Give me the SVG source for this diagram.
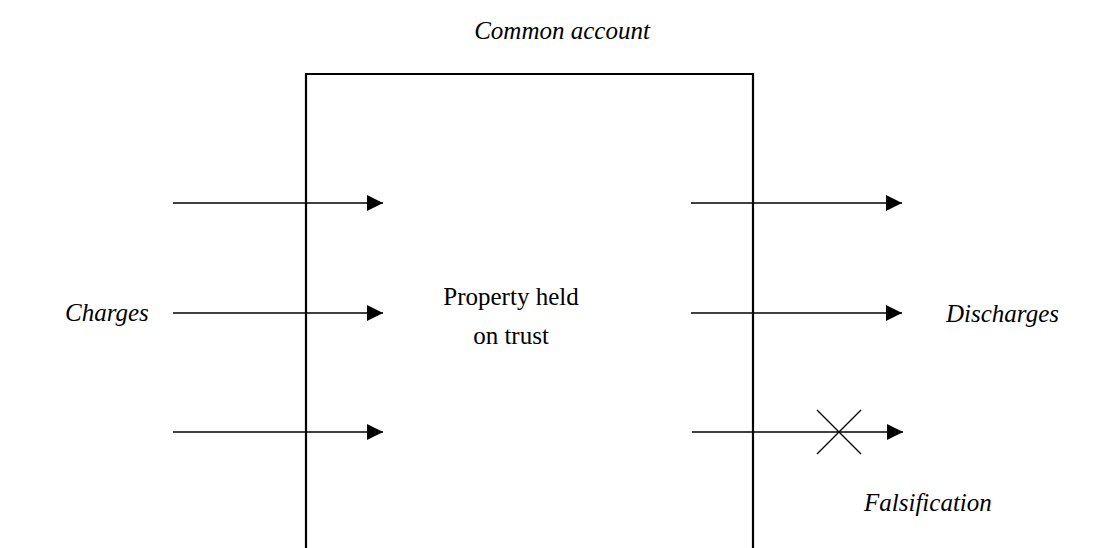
<svg xmlns="http://www.w3.org/2000/svg" width="1103" height="548" viewBox="0 0 1103 548">
  <defs>
    <marker id="arrow" viewBox="0 0 16 16" refX="16" refY="8" markerWidth="16" markerHeight="16" markerUnits="userSpaceOnUse" orient="auto">
      <path d="M0,0 L16,8 L0,16 Z" fill="#000"/>
    </marker>
  </defs>
  <style>
    .lbl { font-family: "Liberation Serif", "Times New Roman", serif; font-size: 25px; fill: #000; }
    .it { font-style: italic; }
    .edge { stroke: #000; stroke-width: 1.3; fill: none; marker-end: url(#arrow); }
    .box { stroke: #000; stroke-width: 2.2; fill: none; }
  </style>
  <rect width="1103" height="548" fill="#fff"/>

  <g id="title">
    <text class="lbl it" x="562" y="39" text-anchor="middle">Common account</text>
  </g>

  <g id="account">
    <path class="box" d="M306,548 L306,74 L753,74 L753,548"/>
    <text class="lbl" x="511" y="305" text-anchor="middle">Property held</text>
    <text class="lbl" x="511" y="344" text-anchor="middle">on trust</text>
  </g>

  <g id="charges">
    <text class="lbl it" x="65" y="321">Charges</text>
  </g>

  <g id="discharges">
    <text class="lbl it" x="946" y="322" font-size="29">Discharges</text>
  </g>

  <g id="falsification">
    <text class="lbl it" x="864" y="511" font-size="27">Falsification</text>
  </g>

  <g id="connectors">
    <line class="edge" x1="173" y1="203" x2="383" y2="203"/>
    <line class="edge" x1="173" y1="313" x2="383" y2="313"/>
    <line class="edge" x1="173" y1="432" x2="383" y2="432"/>
    <line class="edge" x1="691" y1="203" x2="902" y2="203"/>
    <line class="edge" x1="691" y1="313" x2="902" y2="313"/>
    <line class="edge" x1="692" y1="432" x2="903" y2="432"/>
    <path d="M817,410 L861,454 M861,410 L817,454" stroke="#000" stroke-width="1.3" fill="none"/>
  </g>
</svg>
